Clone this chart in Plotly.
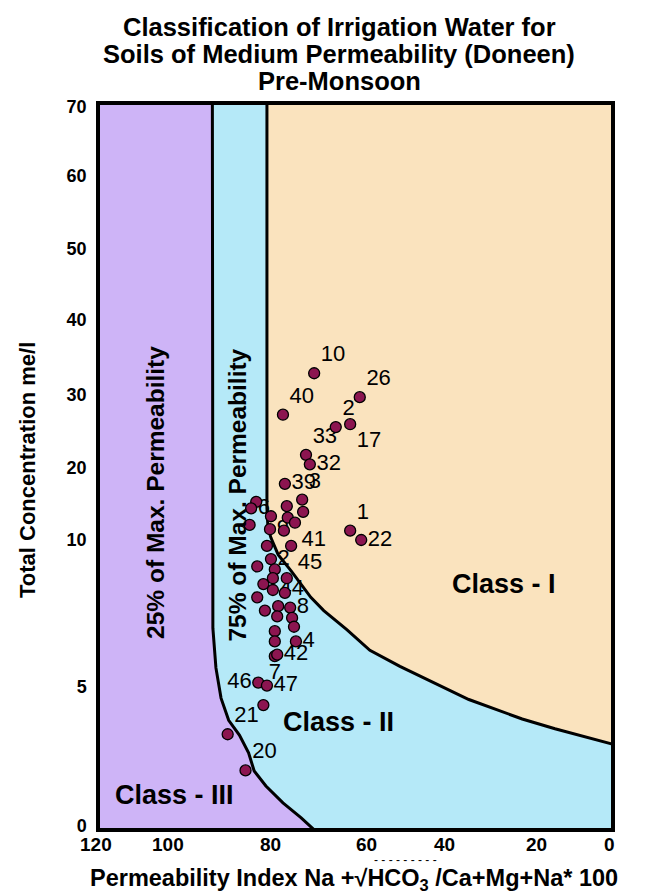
import numpy as np
import plotly.graph_objects as go

# ---------------- text ----------------
TITLE_LINES = ["Classification of Irrigation Water for",
               "Soils of Medium Permeability (Doneen)",
               "Pre-Monsoon"]
X_TITLE = "Permeability Index Na +\u221aHCO<sub>3</sub> /Ca+Mg+Na* 100"
Y_TITLE = "Total Concentration me/l"

# ---------------- axes ----------------
X_TICKS = [120, 100, 80, 60, 40, 20, 0]
Y_TICKS = [0, 5, 10, 20, 30, 40, 50, 60, 70]

# ---------------- class boundaries (PI %, total conc. me/l) ----------------
C25_PI = [91.3, 91.3, 91.2, 90.6, 89.6, 88.1, 86.0, 84.2, 83.1, 80.8, 77.3, 73.5, 70.4]
C25_TC = [71.0, 9.05, 7.0, 5.65, 4.6, 3.8, 3.27, 2.63, 1.98, 1.44, 0.83, 0.29, -0.2]
C75_PI = [80.6, 80.6, 80.4, 79.8, 78.3, 75.6, 71.5, 68.8, 64.0, 59.0, 51.3, 41.0, 34.6, 23.0, 14.8, -0.8]
C75_TC = [71.0, 14.4, 11.7, 10.3, 9.5, 8.95, 8.05, 7.6, 6.95, 6.25, 5.7, 5.05, 4.55, 3.85, 3.5, 2.95]

# ---------------- samples ----------------
SAMPLE_PI = [70.8, 61.3, 77.3, 66.3, 63.3, 72.5, 71.7, 76.9, 73.3, 76.5,
             73.1, 76.3, 74.8, 82.7, 83.7, 84.0, 79.8, 80.0, 77.1, 63.3,
             61.0, 80.6, 75.6, 79.8, 82.5, 79.0, 76.5, 79.4, 81.3, 79.4,
             76.9, 82.5, 78.3, 75.8, 81.0, 78.5, 75.4, 75.0, 79.0, 74.6,
             79.0, 79.0, 78.5, 82.3, 80.6, 81.3, 88.3, 84.8]
SAMPLE_TC = [32.9, 29.7, 27.3, 25.6, 26.0, 21.8, 20.5, 17.8, 15.6, 14.7,
             13.9, 13.1, 12.4, 15.3, 14.4, 12.1, 13.3, 11.5, 11.3, 11.3,
             10.0, 9.8, 9.8, 9.35, 9.1, 9.0, 8.7, 8.7, 8.5, 8.3,
             8.2, 8.05, 7.75, 7.7, 7.6, 7.4, 7.35, 7.05, 6.9, 6.55,
             6.55, 6.05, 6.1, 5.15, 5.05, 4.35, 3.3, 2.0]
SAMPLE_LABELS = ["10", "26", "40", "2", "17", "33", "32", "39", "3", "",
                 "", "", "41", "", "6", "", "", "9", "", "1",
                 "22", "", "45", "2", "", "", "", "", "", "44",
                 "", "", "", "8", "", "", "", "", "", "4",
                 "", "7", "42", "46", "47", "", "21", "20"]
LABEL_POS = ["top right", "top right", "top right", "top right", "bottom right",
             "top right", "middle right", "middle right", "top right", "middle right",
             "middle right", "middle right", "bottom right", "middle right", "middle right",
             "middle right", "middle right", "middle right", "middle right", "top right",
             "middle right", "middle right", "bottom right", "middle right", "middle right",
             "middle right", "middle right", "middle right", "middle right", "middle right",
             "middle right", "middle right", "middle right", "middle right", "middle right",
             "middle right", "middle right", "middle right", "middle right", "middle right",
             "middle right", "bottom center", "middle right", "middle left", "middle right",
             "middle right", "top right", "top right"]

CLASS_NAMES = ["Class - I", "Class - II", "Class - III"]
CLASS_PI = [27.0, 65.8, 98.7]
CLASS_TC = [8.5, 3.75, 1.12]
ZONE_NAMES = ["25% of Max. Permeability", "75% of Max. Permeability"]
ZONE_PI = [103.5, 86.3]
ZONE_TC = [16.6, 16.3]

# ---------------- layout geometry ----------------
W, H = 646, 894
FL, FR, FT, FB = 92, 603, 97, 820          # plot frame in page pixels
X_ANCHOR = [88, 160, 262, 358, 436, 528, 601]            # screen position of each x tick
Y_ANCHOR = [818, 679, 532, 460, 387, 312, 241, 168, 99]  # screen position of each y tick

FONT = "Liberation Sans, Arial, sans-serif"
PURPLE = "#CEB4F7"
CYAN = "#B5E9F8"
PEACH = "#FAE3BE"
DOT = "#8C1550"


def make_scale(vals, pos):
    v = np.asarray(vals, float)
    p = np.asarray(pos, float)
    o = np.argsort(v)
    v, p = v[o], p[o]

    def f(x):
        x = np.asarray(x, float)
        y = np.interp(x, v, p)
        y = np.where(x < v[0], p[0] + (x - v[0]) * (p[1] - p[0]) / (v[1] - v[0]), y)
        y = np.where(x > v[-1], p[-1] + (x - v[-1]) * (p[-1] - p[-2]) / (v[-1] - v[-2]), y)
        return y
    return f


sx = make_scale(X_TICKS, X_ANCHOR)
sy = make_scale(Y_TICKS, Y_ANCHOR)


def px(xp):
    return (xp - FL) / (FR - FL)


def py(yp):
    return (FB - yp) / (FB - FT)


fig = go.Figure()

# class I region (right of 75% curve)
c75x = list(sx(C75_PI))
c75y = list(sy(C75_TC))
fig.add_trace(go.Scatter(x=c75x + [FR + 10, FR + 10], y=c75y + [FT - 10, FT - 10],
                         fill="toself", fillcolor=PEACH, mode="none",
                         hoverinfo="skip", showlegend=False))
# class III region (left of 25% curve)
c25x = list(sx(C25_PI))
c25y = list(sy(C25_TC))
fig.add_trace(go.Scatter(x=[FL - 10, FL - 10] + c25x, y=[FB + 10, FT - 10] + c25y,
                         fill="toself", fillcolor=PURPLE, mode="none",
                         hoverinfo="skip", showlegend=False))
# boundary lines
for cx, cy in ((c25x, c25y), (c75x, c75y)):
    fig.add_trace(go.Scatter(x=cx, y=cy, mode="lines",
                             line=dict(color="black", width=3),
                             hoverinfo="skip", showlegend=False))

# sample labels (drawn under the dots; an invisible marker sets the label offset)
lab_idx = [i for i, t in enumerate(SAMPLE_LABELS) if t]
fig.add_trace(go.Scatter(x=sx([SAMPLE_PI[i] for i in lab_idx]),
                         y=sy([SAMPLE_TC[i] for i in lab_idx]), mode="markers+text",
                         marker=dict(size=9, color="rgba(0,0,0,0)"),
                         text=[SAMPLE_LABELS[i] for i in lab_idx],
                         textposition=[LABEL_POS[i] for i in lab_idx],
                         textfont=dict(family=FONT, size=22, color="black"),
                         hoverinfo="skip", showlegend=False, cliponaxis=False))
# sample dots
fig.add_trace(go.Scatter(x=sx(SAMPLE_PI), y=sy(SAMPLE_TC), mode="markers",
                         marker=dict(size=11, color=DOT, line=dict(color="black", width=1.3)),
                         customdata=np.c_[SAMPLE_PI, SAMPLE_TC],
                         hovertemplate="PI %{customdata[0]}<br>TC %{customdata[1]}<extra></extra>",
                         showlegend=False, cliponaxis=False))

BOLD = dict(family=FONT, color="black", weight="bold")
ann = []
for name, xv, yv in zip(CLASS_NAMES, CLASS_PI, CLASS_TC):
    ann.append(dict(x=float(sx(xv)), y=float(sy(yv)), xref="x", yref="y", text=name,
                    xanchor="center", yanchor="middle",
                    showarrow=False, font=dict(BOLD, size=27)))
for name, xv, yv in zip(ZONE_NAMES, ZONE_PI, ZONE_TC):
    ann.append(dict(x=float(sx(xv)), y=float(sy(yv)), xref="x", yref="y", text=name,
                    textangle=-90, xanchor="center", yanchor="middle", showarrow=False,
                    font=dict(BOLD, size=24.5)))
# x tick labels (the 120 label sits just outside the frame, so all are drawn as annotations)
for t in X_TICKS:
    ann.append(dict(x=px(float(sx(t))), y=py(836), xref="paper", yref="paper", text=str(t),
                    xanchor="center", yanchor="middle", showarrow=False,
                    font=dict(BOLD, size=19)))
# title lines
for i, line in enumerate(TITLE_LINES):
    ann.append(dict(x=px(331), y=py(19 + 27 * i), xref="paper", yref="paper", text=line,
                    xanchor="center", yanchor="middle",
                    showarrow=False, font=dict(BOLD, size=25.5)))
# axis titles
ann.append(dict(x=px(346), y=py(871), xref="paper", yref="paper", text=X_TITLE,
                xanchor="center", yanchor="middle",
                showarrow=False, font=dict(BOLD, size=23.5)))
ann.append(dict(x=px(397), y=py(852), xref="paper", yref="paper", text="- - - - - - - - -",
                xanchor="center", yanchor="middle",
                showarrow=False, font=dict(family=FONT, size=12, color="black")))
ann.append(dict(x=px(19), y=py(462), xref="paper", yref="paper", text=Y_TITLE,
                textangle=-90, xanchor="center", yanchor="middle", showarrow=False,
                font=dict(BOLD, size=22)))

fig.update_layout(
    width=W, height=H,
    margin=dict(l=FL, r=W - FR, t=FT, b=H - FB, pad=0),
    paper_bgcolor="white", plot_bgcolor=CYAN,
    annotations=ann,
    xaxis=dict(range=[FL, FR], tickvals=list(sx(X_TICKS)), showticklabels=False,
               showgrid=False, zeroline=False, ticks="",
               showline=True, mirror=True, linecolor="black", linewidth=3.5),
    yaxis=dict(range=[FB, FT], tickvals=list(sy(Y_TICKS)), ticktext=[str(t) for t in Y_TICKS],
               showgrid=False, zeroline=False, ticks="", ticklabelstandoff=6,
               tickfont=dict(BOLD, size=18),
               showline=True, mirror=True, linecolor="black", linewidth=3.5),
)

fig.write_html("out.html")
